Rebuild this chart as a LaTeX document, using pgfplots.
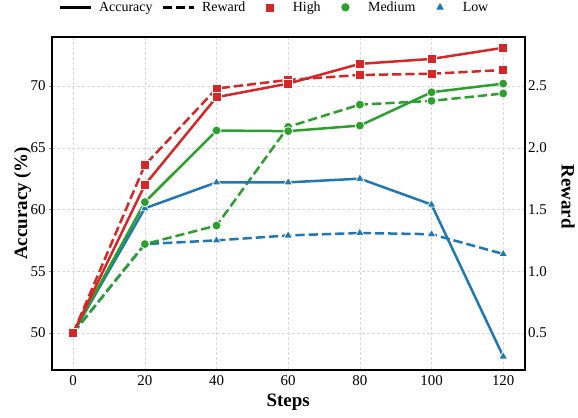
\documentclass[border=0pt]{standalone}
\usepackage{fontspec}
\setmainfont{Liberation Serif}
\usepackage{pgfplots}
\pgfplotsset{compat=1.18}
\definecolor{cred}{HTML}{D62728}
\definecolor{cgreen}{HTML}{2CA02C}
\definecolor{cblue}{HTML}{1F77B4}
\pgfplotsset{
  base/.style={scale only axis, width=473bp, height=333.3bp, xmin=-6, xmax=126,
    at={(51.7bp,47bp)}, anchor=south west,
    /pgf/number format/assume math mode=true,
    ticklabel style={font=\fontsize{15}{15}\selectfont},
    label style={font=\bfseries\fontsize{19}{19}\selectfont}},
  ser/.style={line width=2.5bp, mark options={solid, fill=#1, draw=white, line width=0.8bp}, color=#1},
  dsh/.style={dash pattern=on 9.25bp off 4bp},
  legend image code/.code={\draw[mark repeat=2,mark phase=2,#1] plot coordinates {(0bp,0bp)(15.5bp,0bp)(31bp,0bp)};},
  mleg/.style={only marks, legend image code/.code={\path (0bp,0bp) (31bp,0bp); \draw[##1] plot coordinates {(15.5bp,0bp)};}},
}
\begin{document}
\begin{tikzpicture}[x=1bp,y=1bp]
% frame, grid, legend
\begin{axis}[base, ymin=47, ymax=74,
  grid=major, grid style={dash pattern=on 3bp off 2bp, color=black!15, line width=0.6bp},
  axis line style={line width=1.6bp, black},
  xtick={0,20,...,120}, ytick={50,55,...,70},
  xtick pos=bottom, ytick pos=left,
  tick align=outside, major tick length=2.5bp,
  xtick style={draw=none}, ytick style={gray, line width=0.6bp},
  xlabel={Steps}, ylabel={Accuracy (\%)},
  xlabel style={at={(axis description cs:0.5,0)}, anchor=base, yshift=-36.7bp},
  ylabel style={at={(axis description cs:-0.0522,0.5)}, anchor=base},
  legend style={draw=none, fill=none, legend columns=5, at={(axis description cs:0.471,1)}, anchor=center, yshift=29.4bp,
    font=\fontsize{14}{14}\selectfont,
    /tikz/every odd column/.append style={column sep=5bp},
    /tikz/every even column/.append style={column sep=7bp}},
]
\addlegendimage{black, line width=2.5bp}
\addlegendentry{Accuracy}
\addlegendimage{black, line width=2.5bp, dsh}
\addlegendentry{Reward}
\addlegendimage{mleg, mark=square*, mark size=4.5bp, cred, mark options={fill=cred, draw=white}}
\addlegendentry{High}
\addlegendimage{mleg, mark=*, mark size=4.5bp, cgreen, mark options={fill=cgreen, draw=white}}
\addlegendentry{Medium}
\addlegendimage{mleg, mark=triangle*, mark size=5bp, cblue, mark options={fill=cblue, draw=white}}
\addlegendentry{Low}
\end{axis}
% reward axis (dashed)
\begin{axis}[base, ymin=0.2, ymax=2.9,
  axis x line=none, axis y line*=right,
  axis line style={line width=1.6bp, black},
  ytick={0.5,1.0,1.5,2.0,2.5}, major tick length=0bp,
  yticklabel style={/pgf/number format/.cd, fixed, fixed zerofill, precision=1},
  ylabel={Reward},
  ylabel style={at={(axis description cs:1.078,0.52)}, rotate=180, anchor=base},
]
\addplot[ser=cblue, dsh, mark=triangle*, mark size=5bp] coordinates {(0,0.5)(20,1.22)(40,1.25)(60,1.29)(80,1.31)(100,1.30)(120,1.14)};
\addplot[ser=cgreen, dsh, mark=*, mark size=4.5bp] coordinates {(0,0.5)(20,1.22)(40,1.37)(60,2.17)(80,2.35)(100,2.38)(120,2.44)};
\addplot[ser=cred, dsh, mark=square*, mark size=4.5bp] coordinates {(0,0.5)(20,1.86)(40,2.48)(60,2.55)(80,2.59)(100,2.60)(120,2.63)};
\end{axis}
% accuracy axis (solid)
\begin{axis}[base, ymin=47, ymax=74, axis lines=none]
\addplot[ser=cblue, mark=triangle*, mark size=5bp] coordinates {(0,50)(20,60.1)(40,62.2)(60,62.2)(80,62.5)(100,60.4)(120,48.1)};
\addplot[ser=cgreen, mark=*, mark size=4.5bp] coordinates {(0,50)(20,60.6)(40,66.4)(60,66.35)(80,66.8)(100,69.5)(120,70.2)};
\addplot[ser=cred, mark=square*, mark size=4.5bp] coordinates {(0,50)(20,62.0)(40,69.1)(60,70.2)(80,71.8)(100,72.2)(120,73.1)};
\end{axis}
\pgfresetboundingbox
\path[use as bounding box] (0,0) rectangle (578,417);
\end{tikzpicture}
\end{document}
